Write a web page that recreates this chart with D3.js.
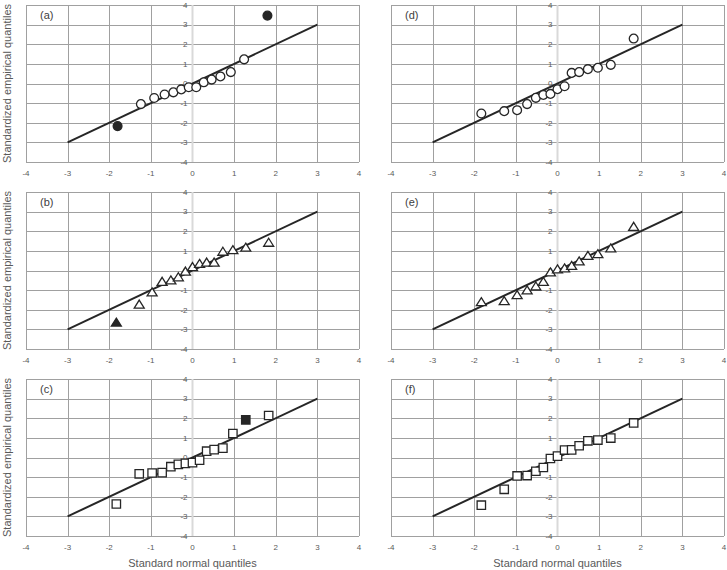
<!DOCTYPE html>
<html>
<head>
<meta charset="utf-8">
<script src="https://cdn.jsdelivr.net/npm/d3@7"></script>
<style>
  body { margin: 0; background: #fff; }
  svg { display: block; }
</style>
</head>
<body>
<script>
// Normal Q-Q plots, six panels (a)-(f)

const outerWidth = 727;
const outerHeight = 570;

// theoretical quantiles (x)
const qx14 = [-1.8, -1.24, -0.92, -0.67, -0.46, -0.27, -0.09, 0.09, 0.27, 0.46, 0.67, 0.92, 1.24, 1.8];
const qx15 = [-1.83, -1.28, -0.97, -0.73, -0.52, -0.34, -0.17, 0, 0.17, 0.34, 0.52, 0.73, 0.97, 1.28, 1.83];

// standardized empirical quantiles (y)
const aVals = [-2.17, -1.05, -0.74, -0.56, -0.45, -0.3, -0.19, -0.19, 0.06, 0.2, 0.36, 0.58, 1.23, 3.46];
const bVals = [-2.64, -1.72, -1.1, -0.56, -0.49, -0.33, -0.04, 0.19, 0.35, 0.42, 0.42, 0.97, 1.05, 1.18, 1.43];
const cVals = [-2.37, -0.83, -0.79, -0.77, -0.47, -0.35, -0.3, -0.26, -0.14, 0.32, 0.4, 0.48, 1.22, 1.92, 2.14];
const dVals = [-1.53, -1.41, -1.36, -1.05, -0.73, -0.58, -0.53, -0.29, -0.14, 0.54, 0.58, 0.73, 0.8, 0.95, 2.29];
const eVals = [-1.6, -1.55, -1.24, -1.0, -0.8, -0.56, -0.08, 0.07, 0.12, 0.25, 0.48, 0.76, 0.85, 1.14, 2.24];
const fVals = [-2.43, -1.62, -0.94, -0.92, -0.7, -0.51, -0.05, 0.07, 0.38, 0.39, 0.6, 0.85, 0.89, 0.99, 1.76];

// which points are drawn solid (outliers)
const aSolid = [0, 13];
const bSolid = [0];
const cSolid = [13];

const panelLabels = ["(a)", "(b)", "(c)", "(d)", "(e)", "(f)"];
const ticks = [-4, -3, -2, -1, 0, 1, 2, 3, 4];
const refLine = [-3, 3];

const xTitle = "Standard normal quantiles";
const yTitle = "Standardized empirical quantiles";

const panels = [
  {label: panelLabels[0], xs: qx14, ys: aVals, solid: aSolid, shape: "circle", col: 0, row: 0},
  {label: panelLabels[1], xs: qx15, ys: bVals, solid: bSolid, shape: "triangle", col: 0, row: 1},
  {label: panelLabels[2], xs: qx15, ys: cVals, solid: cSolid, shape: "square", col: 0, row: 2},
  {label: panelLabels[3], xs: qx15, ys: dVals, solid: [], shape: "circle", col: 1, row: 0},
  {label: panelLabels[4], xs: qx15, ys: eVals, solid: [], shape: "triangle", col: 1, row: 1},
  {label: panelLabels[5], xs: qx15, ys: fVals, solid: [], shape: "square", col: 1, row: 2}
];

const colLeft = [26, 391];
const rowTop = [5, 192, 379];
const plotW = 333;
const plotH = 157;

const gridColor = "#a0a0a0";
const markColor = "#262626";
const labelColor = "#595959";
const fontFam = "'Liberation Sans', Arial, sans-serif";

const svg = d3.select("body").append("svg")
  .attr("width", outerWidth)
  .attr("height", outerHeight);

function markerPath(shape) {
  if (shape === "circle") {
    return "M-4.4,0 A4.4,4.4 0 1,0 4.4,0 A4.4,4.4 0 1,0 -4.4,0 Z";
  } else if (shape === "square") {
    return "M-4.2,-4.2 L4.2,-4.2 L4.2,4.2 L-4.2,4.2 Z";
  }
  return "M0,-4.2 L5,3.8 L-5,3.8 Z";
}

function drawPanel(p) {
  const g = svg.append("g")
    .attr("transform", `translate(${colLeft[p.col]},${rowTop[p.row]})`);

  const x = d3.scaleLinear().domain([-4, 4]).range([0, plotW]);
  const y = d3.scaleLinear().domain([-4, 4]).range([plotH, 0]);

  // horizontal grid
  g.append("g").selectAll("line")
    .data(ticks)
    .join("line")
    .attr("x1", 0).attr("x2", plotW)
    .attr("y1", d => Math.round(y(d)) + 0.5)
    .attr("y2", d => Math.round(y(d)) + 0.5)
    .attr("stroke", gridColor)
    .attr("stroke-width", 1);

  // vertical grid
  g.append("g").selectAll("line")
    .data(ticks.filter(d => d !== 0))
    .join("line")
    .attr("y1", 0).attr("y2", plotH)
    .attr("x1", d => Math.round(x(d)) + 0.5)
    .attr("x2", d => Math.round(x(d)) + 0.5)
    .attr("stroke", gridColor)
    .attr("stroke-width", 1);

  // vertical axis at x = 0 (lighter)
  g.append("line")
    .attr("x1", x(0)).attr("x2", x(0))
    .attr("y1", 0).attr("y2", plotH)
    .attr("stroke", "#d9d9d9")
    .attr("stroke-width", 2);

  // y tick labels next to the axis
  g.append("g").selectAll("text")
    .data(ticks)
    .join("text")
    .attr("x", x(0) - 5)
    .attr("y", d => y(d))
    .attr("dy", "0.35em")
    .attr("text-anchor", "end")
    .style("font-family", fontFam)
    .style("font-size", "8px")
    .style("fill", labelColor)
    .text(d => d);

  // x tick labels below the plot
  g.append("g").selectAll("text")
    .data(ticks)
    .join("text")
    .attr("x", d => x(d))
    .attr("y", plotH + 14)
    .attr("text-anchor", "middle")
    .style("font-family", fontFam)
    .style("font-size", "8px")
    .style("fill", labelColor)
    .text(d => d);

  // reference line y = x
  g.append("line")
    .attr("x1", x(refLine[0])).attr("y1", y(refLine[0]))
    .attr("x2", x(refLine[1])).attr("y2", y(refLine[1]))
    .attr("stroke", markColor)
    .attr("stroke-width", 2);

  // points
  const pts = p.xs.map((v, i) => ({x: v, y: p.ys[i], solid: p.solid.includes(i)}));
  g.append("g").selectAll("path")
    .data(pts)
    .join("path")
    .attr("d", markerPath(p.shape))
    .attr("transform", d => `translate(${x(d.x)},${y(d.y)})`)
    .attr("fill", d => d.solid ? markColor : "#fff")
    .attr("stroke", markColor)
    .attr("stroke-width", 1.3);

  // panel label
  g.append("text")
    .attr("x", 14)
    .attr("y", 14)
    .style("font-family", fontFam)
    .style("font-size", "11px")
    .style("fill", "#404040")
    .text(p.label);
}

panels.forEach(drawPanel);

// y axis titles, one per row on the left
rowTop.forEach(t => {
  svg.append("text")
    .attr("transform", `translate(11,${t + plotH / 2}) rotate(-90)`)
    .attr("text-anchor", "middle")
    .style("font-family", fontFam)
    .style("font-size", "11px")
    .style("fill", labelColor)
    .text(yTitle);
});

// x axis titles under the bottom row
colLeft.forEach(l => {
  svg.append("text")
    .attr("x", l + plotW / 2)
    .attr("y", 567)
    .attr("text-anchor", "middle")
    .style("font-family", fontFam)
    .style("font-size", "11px")
    .style("fill", labelColor)
    .text(xTitle);
});
</script>
</body>
</html>
